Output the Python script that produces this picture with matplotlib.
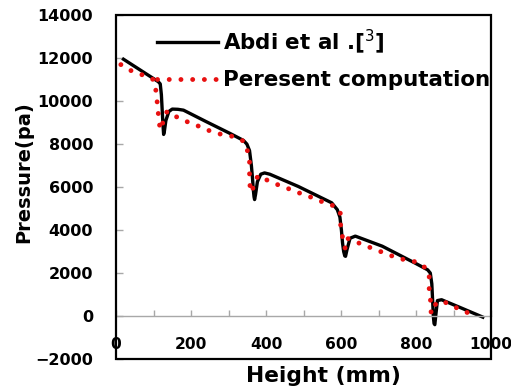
import numpy as np
import matplotlib
matplotlib.use('Agg')
import matplotlib.pyplot as plt
from matplotlib.patches import Rectangle
from matplotlib.ticker import MultipleLocator, FuncFormatter

# Abdi et al. [3] (solid black)
abdi_x = [20, 60, 100, 113, 118, 121, 124, 126, 127, 129, 133, 141, 150, 165, 180, 240,
          306, 340, 349, 356, 361, 364, 366, 368, 369.5, 372, 377, 386, 396, 410, 486,
          575, 590, 597, 601, 604, 607, 610, 612, 616, 624, 638, 710, 799, 831, 838,
          842, 844, 846, 848, 850, 853, 857, 868, 920, 978]
abdi_y = [11950, 11500, 11050, 10900, 10800, 10300, 9300, 8700, 8450, 8600, 9100, 9520,
          9630, 9620, 9580, 9050, 8480, 8170, 8000, 7700, 7000, 6400, 5900, 5550, 5420,
          5650, 6250, 6600, 6660, 6600, 6030, 5270, 4950, 4600, 4000, 3400, 3000, 2800,
          2780, 3100, 3620, 3720, 3250, 2450, 2150, 2000, 1500, 800, 0, -350, -400, 100,
          720, 760, 380, -50]

# present computation (red dots)
pres_x = [13, 42, 69, 100, 105, 109, 112, 114, 118, 127, 136, 167, 194, 226, 253, 284,
          311, 342, 351, 356, 356, 356, 360, 369, 378, 405, 432, 463, 490, 520, 548, 575,
          598, 598, 602, 607, 611, 616, 642, 671, 699, 728, 759, 788, 815, 835, 835, 835,
          840, 840, 849, 869, 896, 925, 953]
pres_y = [11700, 11400, 11230, 11000, 10690, 10070, 9600, 9140, 8670, 9100, 9520, 9215,
          9010, 8797, 8594, 8438, 8360, 8126, 7660, 7193, 6727, 6215, 5749, 6107, 6527,
          6309, 6107, 5905, 5718, 5531, 5330, 5175, 4863, 4350, 3855, 3390, 3156, 3622,
          3436, 3233, 3046, 2844, 2657, 2578, 2424, 2020, 1524, 1058, 592, 126, 513, 713,
          480, 247, 47]

fig = plt.figure(figsize=(5.11, 3.89), dpi=100)
ax = fig.add_axes([0.227, 0.077, 0.734, 0.884])
ax.set_xlim(0, 1000)
ax.set_ylim(-2000, 14000)

ax.plot(abdi_x, abdi_y, color='black', lw=2.4, label=r'Abdi et al .[$^{3}$]',
        solid_joinstyle='round')
ax.plot(pres_x, pres_y, color='#e81010', lw=3.5, linestyle=(0, (0.01, 2.4)),
        dash_capstyle='round', label='Peresent computation')

# frame, x axis drawn through zero like Excel
for s in ['left', 'right', 'top']:
    ax.spines[s].set_visible(False)
ax.spines['bottom'].set_position(('data', 0))
ax.spines['bottom'].set_color('#a8a8a8')
ax.spines['bottom'].set_linewidth(1.0)
ax.add_patch(Rectangle((0, 0), 1, 1, transform=ax.transAxes, fill=False,
                       lw=1.6, edgecolor='black', clip_on=False, zorder=5))

ax.xaxis.set_major_locator(MultipleLocator(100))
ax.xaxis.set_major_formatter(FuncFormatter(lambda v, p: '%d' % v if v % 200 == 0 else ''))
ax.yaxis.set_major_locator(MultipleLocator(2000))
ax.tick_params(axis='x', direction='in', length=4, width=1, color='#a8a8a8', pad=15,
               labelsize=11.2)
ax.tick_params(axis='y', direction='in', length=5, width=1, color='#a8a8a8', pad=16.5,
               labelsize=11.5)
for lab in ax.get_xticklabels() + ax.get_yticklabels():
    lab.set_fontweight('bold')

ax.set_xlabel('Height (mm)', fontsize=15.7, fontweight='bold')
ax.xaxis.set_label_coords(0.552, -0.02)
ax.set_ylabel('Pressure(pa)', fontsize=14, fontweight='bold', va='center')
ax.yaxis.set_label_coords(-0.245, 0.544)

leg = ax.legend(loc='upper left', bbox_to_anchor=(0.109, 0.965), frameon=False,
                prop={'weight': 'bold', 'size': 15.4}, handlelength=2.86,
                handletextpad=0.24, labelspacing=0.68, borderpad=0, borderaxespad=0)

fig.savefig('out.png', dpi=100)
